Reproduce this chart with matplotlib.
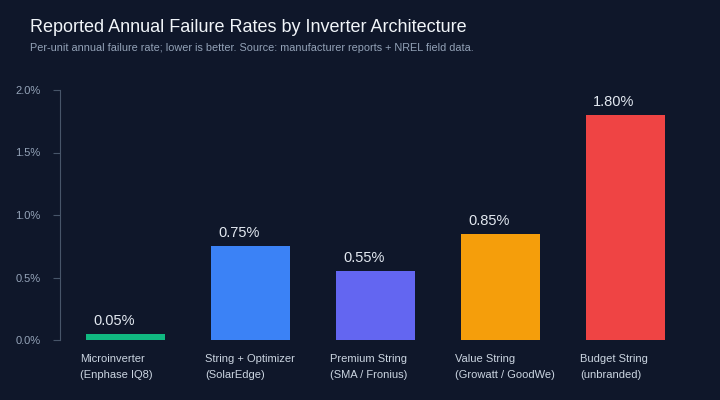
import matplotlib.pyplot as plt
from matplotlib.transforms import ScaledTranslation, blended_transform_factory

plt.rcParams['font.family'] = ['Liberation Sans', 'DejaVu Sans']

categories = ['Microinverter\n(Enphase IQ8)', 'String + Optimizer\n(SolarEdge)',
              'Premium String\n(SMA / Fronius)', 'Value String\n(Growatt / GoodWe)',
              'Budget String\n(unbranded)']
rates = [0.05, 0.75, 0.55, 0.85, 1.80]
colors = ['#10b981', '#3b82f6', '#6366f1', '#f59e0b', '#ef4444']
yticks = [0.0, 0.5, 1.0, 1.5, 2.0]

bg = '#0f172a'
fig = plt.figure(figsize=(7.2, 4.0), dpi=100, facecolor=bg)
ax = fig.add_axes([60 / 720, 0.15, 631 / 720, 0.625], facecolor=bg)

width = 0.632
x = list(range(len(rates)))
ax.bar(x, rates, width=width, color=colors, zorder=2)

ax.set_xlim(-0.524, 4.524)
ax.set_ylim(0, 2.0)

# value labels, left aligned just inside the bar's left edge
for xi, v in zip(x, rates):
    ax.annotate(f'{v:.2f}%', (xi - width / 2, v), xytext=(7, 6), textcoords='offset pixels',
                ha='left', va='bottom', color='#e2e8f0', fontsize=10.5)

# category labels, left aligned under each bar
trans = blended_transform_factory(ax.transData, ax.transAxes)
for xi, lab in zip(x, categories):
    ax.text(xi - width / 2, -0.055, lab, transform=trans + ScaledTranslation(-6 / 100, 0, fig.dpi_scale_trans),
            ha='left', va='top', color='#cbd5e1', fontsize=8, linespacing=1.75)

ax.set_xticks([])
ax.set_yticks(yticks)
ax.set_yticklabels([f'{t:.1f}%' for t in yticks])
ax.tick_params(axis='y', colors='#475569', labelcolor='#94a3b8', labelsize=8, length=5, pad=9)
for s in ['top', 'right', 'bottom']:
    ax.spines[s].set_visible(False)
ax.spines['left'].set_color('#475569')

fig.text(30 / 720, 1 - 28 / 400, 'Reported Annual Failure Rates by Inverter Architecture',
         color='#f1f5f9', fontsize=13, ha='left', va='center')
fig.text(30 / 720, 1 - 48 / 400,
         'Per-unit annual failure rate; lower is better. Source: manufacturer reports + NREL field data.',
         color='#94a3b8', fontsize=7.8, ha='left', va='center')

fig.savefig('out.png', dpi=100, facecolor=bg)
